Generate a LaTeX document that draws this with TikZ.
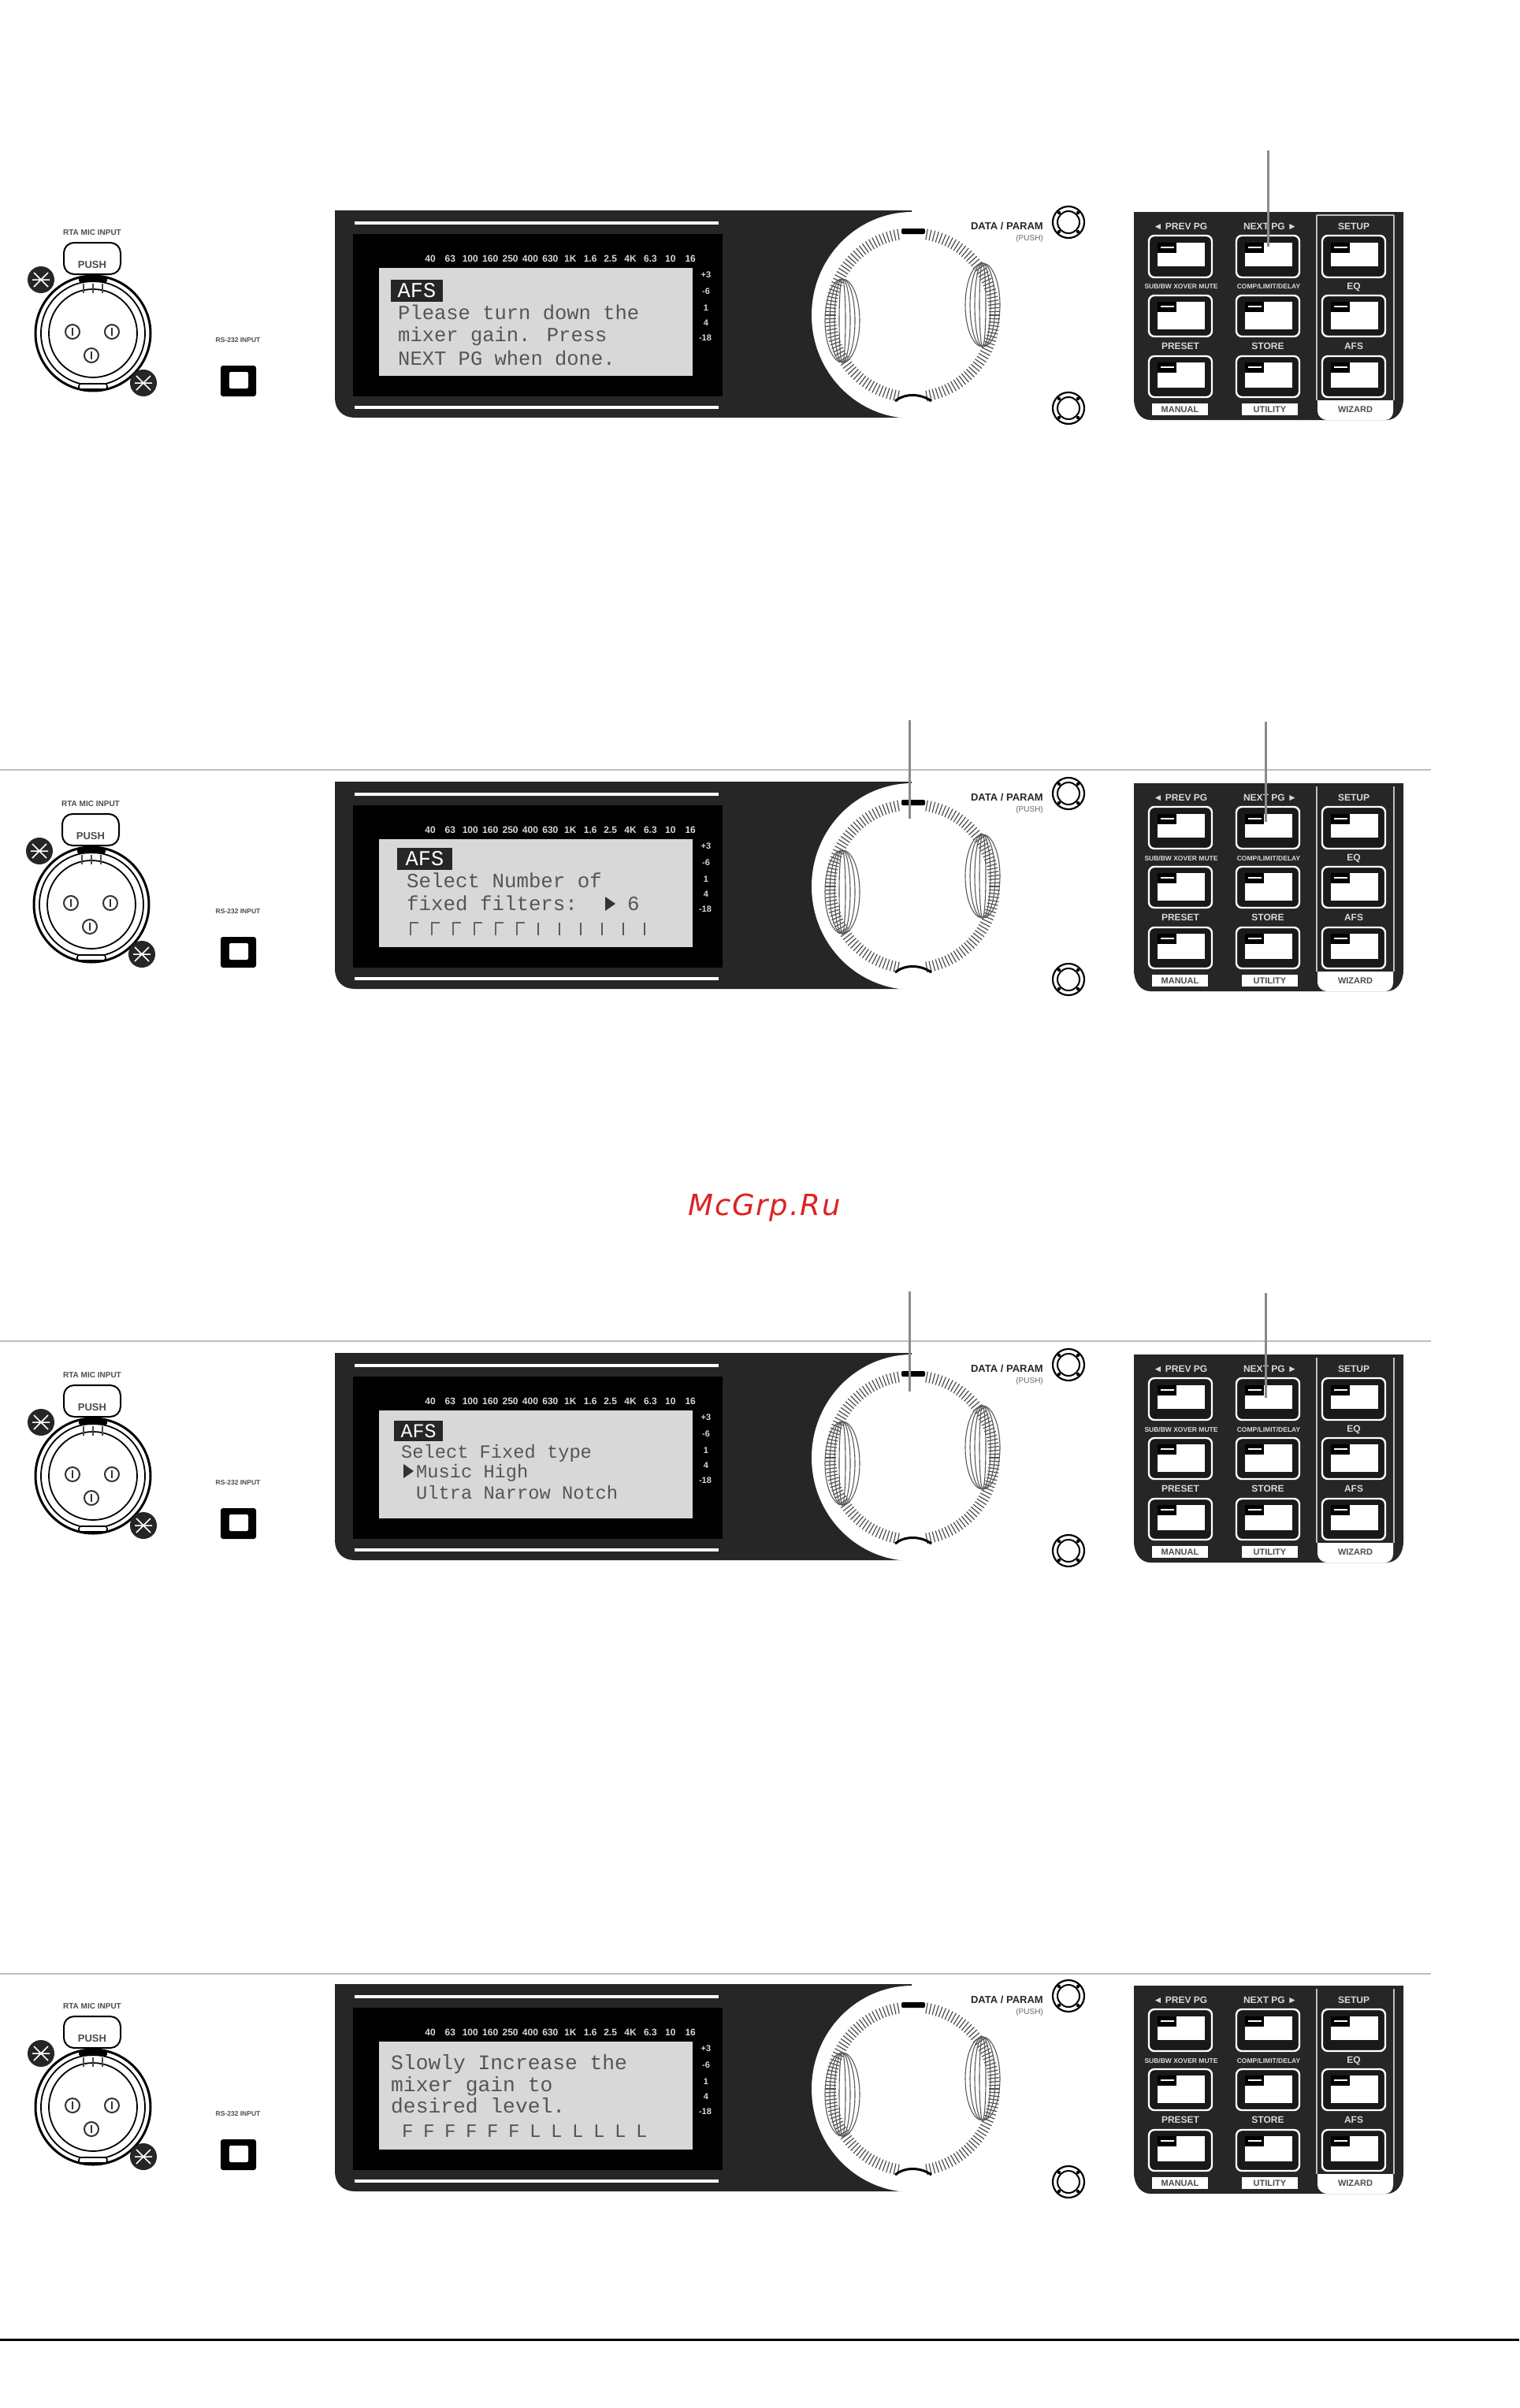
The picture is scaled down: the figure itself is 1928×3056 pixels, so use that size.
\documentclass[tikz,border=0pt]{standalone}
\usepackage{fontspec}
\setmainfont{Liberation Sans}
\newfontfamily\lcdfont{Liberation Mono}
\newfontfamily\wmfont[LetterSpace=5]{DejaVu Sans}
\definecolor{panelc}{HTML}{262626}
\definecolor{lcdc}{HTML}{D8D8D8}
\definecolor{lcdink}{HTML}{555555}
\definecolor{rulec}{HTML}{BDBDBD}
\definecolor{pointc}{HTML}{8A8A8A}
\definecolor{wmc}{HTML}{DD2222}
\tikzset{
  lcdtext/.style={anchor=base west,inner sep=0,text=lcdink,font=\lcdfont\fontsize{#1}{#1}\selectfont},
  afstext/.style={anchor=center,inner sep=0,text=white,font=\lcdfont\fontsize{#1}{#1}\selectfont},
  tinyw/.style={anchor=center,inner sep=0,text=white!85!black,font=\bfseries\fontsize{#1}{#1}\selectfont},
  tinyk/.style={anchor=center,inner sep=0,text=black!70,font=\bfseries\fontsize{#1}{#1}\selectfont},
  pointer/.style={draw=pointc,line width=3pt},
  hrule/.style={draw=rulec,line width=2pt},
}
% one button: centre x, outer top, outer bottom, inner top, inner bottom
\newcommand\keybtn[5]{%
  \draw[white,line width=2.4pt,fill=black!90,rounded corners=7pt] (#1-40,#2) rectangle (#1+40,#3);
  \fill[white] (#1-29,#4) rectangle (#1+31,#5);
  \fill[black] (#1-29,#4) rectangle (#1-5,#4+13);
  \draw[white,line width=2pt] (#1-25,#4+6) -- (#1-8,#4+6);
}
\newcommand\miniknob[2]{%
  \draw[black,line width=2.2pt,fill=white] (#1,#2) circle (20);
  \draw[black,line width=2pt] (#1,#2) circle (14);
  \foreach \a in {45,135,225,315}{\fill[black] (#1,#2) ++(\a:17) circle (2.2);}
}
% row offset #1, row id #2, xlr x shift #3
\newcommand\rackunit[3]{%
\begin{scope}[shift={(0,#1)}]
  % XLR connector
  \begin{scope}[shift={(#3,0)}]
    \node[tinyk=10] (mic-#2) at (117,295) {RTA MIC INPUT};
    \draw[black,line width=2pt,fill=white,rounded corners=13pt] (81,348) -- (81,308) -- (153,308) -- (153,348) -- cycle;
    \node[tinyk=13] (push-#2) at (117,336) {PUSH};
    \draw[black,line width=3pt,fill=white] (118,423) circle (73);
    \draw[black,line width=1.8pt] (118,423) circle (66);
    \draw[black,line width=1.8pt] (118,423) circle (56);
    \fill[black,rounded corners=2pt] (100,351) rectangle (136,358);
    \draw[black!70,line width=1.5pt] (106,360) -- (106,372) (118,360) -- (118,372) (130,360) -- (130,372);
    \draw[black,line width=1.6pt,fill=white,rounded corners=3pt] (100,487) rectangle (136,494);
    \foreach \p in {(92,421),(142,421),(116,451)}{
      \draw[black!80,line width=2pt] \p circle (9);
      \draw[black!80,line width=2pt] \p ++(0,-5) -- ++(0,10);
    }
    \foreach \p in {(52,355),(182,486)}{
      \fill[black!85] \p circle (17);
      \draw[white,line width=1.5pt] \p ++(-9,-9) -- ++(18,18) \p ++(-9,9) -- ++(18,-18) \p ++(-11,0) -- ++(22,0);
    }
  \end{scope}
  % square socket
  \node[tinyk=8.5] (rs-#2) at (302,432) {RS-232 INPUT};
  \fill[black,rounded corners=3pt] (280,464) rectangle (325,503);
  \fill[white,rounded corners=2pt] (291,472) rectangle (315,493);
  % main panel
  \fill[panelc] (425,267) -- (1157,267) -- (1157,530) -- (450,530) .. controls (435,530) and (425,520) .. (425,505) -- cycle;
  \draw[white,line width=4pt] (450,283) -- (912,283) (450,517) -- (912,517);
  \fill[black] (448,297) rectangle (917,503);
  \fill[lcdc] (481,340) rectangle (879,477);
  % frequency scale
  \foreach \t [count=\i from 0] in {40,63,100,160,250,400,630,1K,1.6,2.5,4K,6.3,10,16}{
    \node[tinyw=12] (fq-#2-\i) at (546+25.4*\i,328) {\t};
  }
  \node[tinyw=11] (m1-#2) at (896,349) {+3};
  \node[tinyw=11] (m2-#2) at (896,370) {-6};
  \node[tinyw=11] (m3-#2) at (896,391) {1};
  \node[tinyw=11] (m4-#2) at (896,410) {4};
  \node[tinyw=11] (m5-#2) at (895,429) {-18};
  % encoder
  \fill[white] (1158,400) ellipse [x radius=128,y radius=131];
  \foreach \a in {-80,-77.5,...,80,100,102.5,...,260}{
    \draw[black!70,line width=1.2pt] (1158,400) ++(\a:97) -- ++(\a:14);
  }
  \foreach \r in {22,16,10,4}{
    \draw[black!65,line width=1.1pt] (1069,407) ellipse [x radius=\r,y radius=53];
    \draw[black!65,line width=1.1pt] (1247,387) ellipse [x radius=\r,y radius=53];
  }
  \fill[black,rounded corners=2pt] (1144,290) rectangle (1174,297);
  \draw[black,line width=3pt] (1136,509) .. controls (1148,499) and (1168,499) .. (1182,509);
  % screws and label
  \miniknob{1356}{282}
  \miniknob{1356}{518}
  \node[anchor=east,inner sep=0,text=black!85,font=\bfseries\fontsize{13}{13}\selectfont] (data-#2) at (1324,287) {DATA / PARAM};
  \node[anchor=east,inner sep=0,text=black!60,font=\fontsize{10}{10}\selectfont] (pushl-#2) at (1324,303) {(PUSH)};
  % keypad
  \fill[panelc] (1439,269) -- (1781,269) -- (1781,506) .. controls (1781,522) and (1772,533) .. (1760,533) -- (1460,533) .. controls (1448,533) and (1439,522) .. (1439,506) -- cycle;
  \draw[white!75!black,line width=2pt] (1671,273) -- (1671,508) (1769,273) -- (1769,508);
  \foreach \c in {1498,1609,1718}{
    \keybtn{\c}{299}{352}{308}{338}
    \keybtn{\c}{375}{427}{383}{418}
    \keybtn{\c}{452}{504}{460}{492}
  }
  \node[tinyw=12] (k1-#2) at (1498,287) {◄ PREV PG};
  \node[tinyw=12] (k2-#2) at (1612,287) {NEXT PG ►};
  \node[tinyw=12] (k3-#2) at (1718,287) {SETUP};
  \node[tinyw=8.5] (k4-#2) at (1499,364) {SUB/BW XOVER MUTE};
  \node[tinyw=8.5] (k5-#2) at (1610,364) {COMP/LIMIT/DELAY};
  \node[tinyw=12] (k6-#2) at (1718,364) {EQ};
  \node[tinyw=12] (k7-#2) at (1498,439) {PRESET};
  \node[tinyw=12] (k8-#2) at (1609,439) {STORE};
  \node[tinyw=12] (k9-#2) at (1718,439) {AFS};
  \fill[white] (1462,512) rectangle (1533,527);
  \fill[white] (1576,512) rectangle (1647,527);
  \fill[white] (1672,508) -- (1768,508) -- (1768,522) .. controls (1768,528) and (1764,533) .. (1758,533) -- (1684,533) .. controls (1678,533) and (1672,528) .. (1672,522) -- cycle;
  \node[tinyk=11] (b1-#2) at (1497.5,519.5) {MANUAL};
  \node[tinyk=11] (b2-#2) at (1611.5,519.5) {UTILITY};
  \node[tinyk=11] (b3-#2) at (1720,520) {WIZARD};
\end{scope}
}
\begin{document}
\begin{tikzpicture}[x=1pt,y=-1pt]
\useasboundingbox (0,0) rectangle (1928,3056);
\fill[white] (0,0) rectangle (1928,3056);

\rackunit{0}{a}{0}
\rackunit{725}{b}{-2}
\rackunit{1450}{c}{0}
\rackunit{2251}{d}{0}

% top bar in the first keypad
\draw[white!75!black,line width=2pt] (1671,273) -- (1769,273);

% LCD 1
\fill[black!85] (496,355) rectangle (562,383);
\node[afstext=27] (afs1) at (529,369) {AFS};
\node[lcdtext=25.5] (l11) at (505,405) {Please turn down the};
\node[lcdtext=25.5] (l12) at (505,433) {mixer gain. Press};
\node[lcdtext=25.5] (l13) at (505,463) {NEXT PG when done.};

% LCD 2
\fill[black!85] (504,1076) rectangle (574,1104);
\node[afstext=27] (afs2) at (539,1090) {AFS};
\node[lcdtext=25.8] (l21) at (516,1126) {Select Number of};
\node[lcdtext=25.8] (l22) at (516,1155) {fixed filters:};
\fill[black!80] (768,1138) -- (781,1147) -- (768,1156) -- cycle;
\node[lcdtext=25.8] (l23) at (796,1155) {6};
\foreach \i in {0,...,5}{
  \draw[black!60,line width=2.4pt] (521+27*\i,1187) -- (521+27*\i,1171) -- (531+27*\i,1171);
}
\foreach \i in {6,...,11}{
  \draw[black!65,line width=2.4pt] (521+27*\i,1187) -- (521+27*\i,1171);
}

% LCD 3
\fill[black!85] (500,1803) rectangle (562,1829);
\node[afstext=25] (afs3) at (531,1816) {AFS};
\node[lcdtext=23.7] (l31) at (509,1850) {Select Fixed type};
\fill[black!80] (512,1858) -- (525,1867) -- (512,1876) -- cycle;
\node[lcdtext=23.7] (l32) at (528,1875) {Music High};
\node[lcdtext=23.7] (l33) at (528,1902) {Ultra Narrow Notch};

% LCD 4
\node[lcdtext=26.3] (l41) at (496,2626) {Slowly Increase the};
\node[lcdtext=26.3] (l42) at (496,2654) {mixer gain to};
\node[lcdtext=26.3] (l43) at (496,2681) {desired level.};
\foreach \t [count=\i from 0] in {F,F,F,F,F,F,L,L,L,L,L,L}{
  \node[lcdtext=24] (f\i) at (510+27*\i,2712) {\t};
}

% dividers
\coordinate (r1a) at (0,977);   \coordinate (r1b) at (1816,977);
\coordinate (r2a) at (0,1702);  \coordinate (r2b) at (1816,1702);
\coordinate (r3a) at (0,2505);  \coordinate (r3b) at (1816,2505);
\coordinate (r4a) at (0,2969);  \coordinate (r4b) at (1928,2969);
\draw[hrule] (r1a) -- (r1b);
\draw[hrule] (r2a) -- (r2b);
\draw[hrule] (r3a) -- (r3b);
\draw[black,line width=3pt] (r4a) -- (r4b);

% pointers
\coordinate (p1a) at (1609,191); \coordinate (p1b) at (1609,313);
\coordinate (p2a) at (1154,914); \coordinate (p2b) at (1154,1039);
\coordinate (p3a) at (1606,916); \coordinate (p3b) at (1606,1043);
\coordinate (p4a) at (1154,1639); \coordinate (p4b) at (1154,1766);
\coordinate (p5a) at (1606,1641); \coordinate (p5b) at (1606,1774);
\foreach \n in {1,...,5}{\draw[pointer] (p\n a) -- (p\n b);}

% watermark
\node[anchor=base,inner sep=0,text=wmc,font=\wmfont\itshape\fontsize{37}{37}\selectfont] (wm) at (970,1542) {McGrp.Ru};
\end{tikzpicture}
\end{document}
